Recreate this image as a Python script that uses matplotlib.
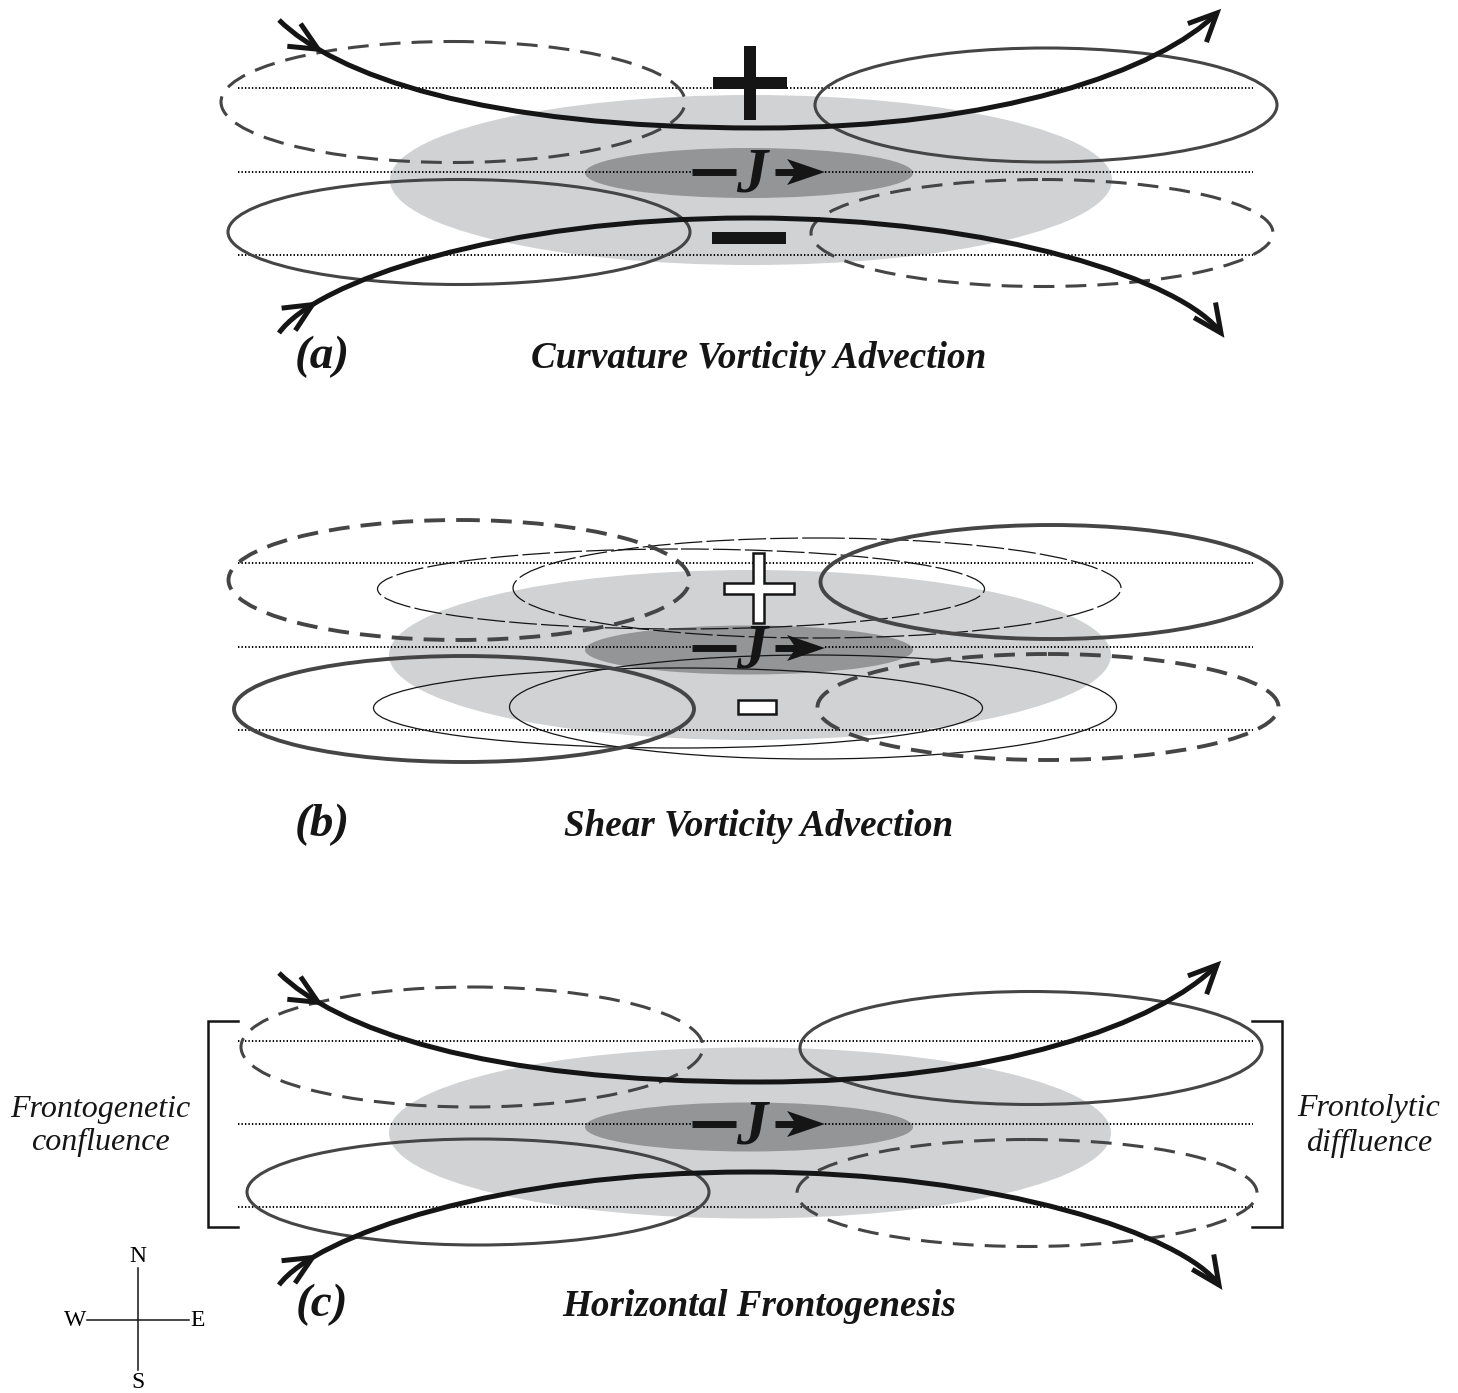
import numpy as np
import matplotlib
matplotlib.use("Agg")
import matplotlib.pyplot as plt
from matplotlib.patches import Ellipse, Polygon, Rectangle, PathPatch
from matplotlib.path import Path

plt.rcParams['lines.scale_dashes'] = False

# ---------------- data (pixel coordinates of the schematic) ----------------
panels = ["a", "b", "c"]
panel_labels = ["(a)", "(b)", "(c)"]
panel_titles = ["Curvature Vorticity Advection", "Shear Vorticity Advection",
                "Horizontal Frontogenesis"]
title_y = [357, 825, 1305]

# dotted latitude lines (y) per panel
dotted_y = {"a": [88, 172, 255], "b": [563, 647, 730], "c": [1041, 1124, 1207]}

# jet core: light and dark gray ellipses (cx, cy, w, h)
jet_light = {"a": (751, 180, 722, 170), "b": (750, 655, 722, 170), "c": (750, 1133, 722, 171)}
jet_dark = {"a": (749, 173, 328, 50), "b": (749, 650, 328, 49), "c": (749, 1127, 328, 49)}
jet_axis_y = {"a": 172, "b": 648, "c": 1124}

# trough/ridge ellipses: (cx, cy, w, h, dashed)
ellipses = {
    "a": [(453, 102, 464, 121, True), (1046, 105, 462, 114, False),
          (459, 232, 462, 105, False), (1042, 233, 462, 107, True)],
    "b": [(459, 580, 461, 120, True), (1051, 582, 461, 114, False),
          (464, 709, 460, 106, False), (1048, 707, 461, 106, True)],
    "c": [(472, 1047, 462, 120, True), (1031, 1048, 462, 113, False),
          (478, 1192, 462, 106, False), (1027, 1193, 460, 107, True)],
}
# thin shear-vorticity ellipses in (b)
thin_ellipses_b = [(681, 589, 607, 80, True), (817, 588, 608, 100, True),
                   (678, 708, 609, 80, False), (813, 707, 607, 104, False)]

# streamlines as cubic Bezier control points (left half, right half)
curves = {
    "a": [
        ([(279, 20), (335, 75), (480, 128), (760, 128)],
         [(760, 128), (1000, 128), (1160, 70), (1217, 13)]),
        ([(279, 333), (315, 282), (500, 218), (750, 218)],
         [(750, 218), (1000, 218), (1185, 282), (1221, 333)]),
    ],
    "c": [
        ([(279, 973), (335, 1028), (480, 1082), (760, 1082)],
         [(760, 1082), (1000, 1082), (1160, 1023), (1217, 965)]),
        ([(279, 1285), (315, 1236), (500, 1172), (750, 1172)],
         [(750, 1172), (1000, 1172), (1185, 1236), (1219, 1285)]),
    ],
}

# vorticity-advection signs: (cx, cy)
plus_pos = {"a": (750, 83), "b": (759, 588)}
minus_pos = {"a": (749, 238), "b": (757, 707)}

# ---------------- styles ----------------
LIGHT = "#d1d2d4"
DARK = "#949597"
EDGE = "#454545"
INK = "#151515"
SERIF = "Liberation Serif"

W, H = 1458, 1393
fig = plt.figure(figsize=(W / 100, H / 100), dpi=100)
ax = fig.add_axes([0, 0, 1, 1])
ax.set_xlim(0, W)
ax.set_ylim(H, 0)
ax.axis("off")


def bez(P, t):
    P = np.asarray(P, float)
    return ((1 - t) ** 3) * P[0] + 3 * (1 - t) ** 2 * t * P[1] + 3 * (1 - t) * t ** 2 * P[2] + t ** 3 * P[3]


def bez_d(P, t):
    P = np.asarray(P, float)
    return 3 * (1 - t) ** 2 * (P[1] - P[0]) + 6 * (1 - t) * t * (P[2] - P[1]) + 3 * t ** 2 * (P[3] - P[2])


def barbs(tip, d, L=31, ang=25, lw=3.6):
    d = d / np.hypot(*d)
    pts = []
    for s in (1, -1):
        a = np.radians(s * ang)
        r = np.array([d[0] * np.cos(a) - d[1] * np.sin(a), d[0] * np.sin(a) + d[1] * np.cos(a)])
        pts.append(tip - L * r)
    xs = [pts[0][0], tip[0], pts[1][0]]
    ys = [pts[0][1], tip[1], pts[1][1]]
    ax.plot(xs, ys, color=INK, lw=lw, solid_joinstyle="miter", solid_capstyle="butt", zorder=8)


def draw_curve(left, right):
    verts = list(left) + list(right[1:])
    codes = [Path.MOVETO] + [Path.CURVE4] * 6
    ax.add_patch(PathPatch(Path(verts, codes), fill=False, lw=3.6, edgecolor=INK,
                           capstyle="butt", zorder=7))
    t0 = 0.18
    barbs(bez(left, t0), bez_d(left, t0))
    barbs(bez(right, 1.0), bez_d(right, 1.0))


def cross(cx, cy, size, th, face, edge, lw):
    s, h = size / 2, th / 2
    pts = [(cx - h, cy - s), (cx + h, cy - s), (cx + h, cy - h), (cx + s, cy - h),
           (cx + s, cy + h), (cx + h, cy + h), (cx + h, cy + s), (cx - h, cy + s),
           (cx - h, cy + h), (cx - s, cy + h), (cx - s, cy - h), (cx - h, cy - h)]
    ax.add_patch(Polygon(pts, closed=True, facecolor=face, edgecolor=edge, lw=lw,
                         joinstyle="miter", zorder=9))


def jet_arrow(x0, x1, y):
    # shaft
    ax.plot([x0, x1 - 28], [y, y], color=INK, lw=5.0, solid_capstyle="butt", zorder=10)
    # stealth head
    head = [(x1, y), (x1 - 38, y - 13), (x1 - 29, y), (x1 - 38, y + 13)]
    ax.add_patch(Polygon(head, closed=True, facecolor=INK, edgecolor="none", zorder=10))


DOT = (0, (1.0, 1.5))
for i, p in enumerate(panels):
    # gray jet ellipses
    cx, cy, w, h = jet_light[p]
    ax.add_patch(Ellipse((cx, cy), w, h, facecolor=LIGHT, edgecolor="none", zorder=1))
    cx, cy, w, h = jet_dark[p]
    ax.add_patch(Ellipse((cx, cy), w, h, facecolor=DARK, edgecolor="none", zorder=2))

    # dotted lines
    for k, yy in enumerate(dotted_y[p]):
        if k == 1:
            ax.plot([238, 692], [yy, yy], color="black", lw=1.4, ls=DOT, zorder=3)
            ax.plot([825, 1253], [yy, yy], color="black", lw=1.4, ls=DOT, zorder=3)
        else:
            ax.plot([238, 1253], [yy, yy], color="black", lw=1.4, ls=DOT, zorder=3)

    # main ellipses
    lw_e = 2.8 if p == "b" else 2.2
    for (ex, ey, ew, eh, dashed) in ellipses[p]:
        e = Ellipse((ex, ey), ew, eh, fill=False, edgecolor=EDGE, lw=lw_e, zorder=5)
        if dashed:
            e.set_linestyle((0, (15, 8)))
        ax.add_patch(e)

    # jet symbol  "-J->"
    jy = jet_axis_y[p]
    ax.plot([692, 736], [jy, jy], color=INK, lw=5.0, solid_capstyle="butt", zorder=10)
    jet_arrow(775, 825, jy)
    ax.text(752, jy + 4, "J", fontsize=45, fontweight="bold", style="italic", family=SERIF,
            ha="center", va="center", color=INK, zorder=11)

    # labels
    ax.text(322, title_y[i], panel_labels[i], fontsize=34, fontweight="bold", style="italic",
            family=SERIF, ha="center", va="center", color=INK)
    ax.text(759, title_y[i] + 1, panel_titles[i], fontsize=26.7, fontweight="bold", style="italic",
            family=SERIF, ha="center", va="center", color=INK)

# thin ellipses in (b)
for (ex, ey, ew, eh, dashed) in thin_ellipses_b:
    e = Ellipse((ex, ey), ew, eh, fill=False, edgecolor=INK, lw=0.9, zorder=4)
    if dashed:
        e.set_linestyle((0, (20, 3)))
    ax.add_patch(e)

# streamlines
for p, pair in curves.items():
    for left, right in pair:
        draw_curve(left, right)

# signs
cross(*plus_pos["a"], 74, 12, INK, "none", 0)
ax.add_patch(Rectangle((minus_pos["a"][0] - 37, minus_pos["a"][1] - 6), 74, 12,
                       facecolor=INK, edgecolor="none", zorder=9))
cross(*plus_pos["b"], 70, 11, "white", INK, 1.8)
ax.add_patch(Rectangle((minus_pos["b"][0] - 19, minus_pos["b"][1] - 7), 38, 14,
                       facecolor="white", edgecolor=INK, lw=1.8, zorder=9))

# brackets in (c)
ax.plot([238, 208, 208, 238], [1021, 1021, 1227, 1227], color=INK, lw=1.8,
        solid_joinstyle="miter")
ax.plot([1252, 1282, 1282, 1252], [1021, 1021, 1227, 1227], color=INK, lw=1.8,
        solid_joinstyle="miter")
ax.text(100, 1126, "Frontogenetic\nconfluence", fontsize=23, style="italic", family=SERIF,
        ha="center", va="center", linespacing=1.22, color=INK)
ax.text(1369, 1126, "Frontolytic\ndiffluence", fontsize=23, style="italic", family=SERIF,
        ha="center", va="center", linespacing=1.22, color=INK)

# compass
ax.plot([138, 138], [1268, 1370], color=INK, lw=1.1)
ax.plot([87, 189], [1320, 1320], color=INK, lw=1.1)
ax.text(138, 1256, "N", fontsize=17, family=SERIF, ha="center", va="center")
ax.text(138, 1382, "S", fontsize=17, family=SERIF, ha="center", va="center")
ax.text(86, 1321, "W", fontsize=17, family=SERIF, ha="right", va="center")
ax.text(190, 1321, "E", fontsize=17, family=SERIF, ha="left", va="center")

fig.savefig("out.png", dpi=100)
